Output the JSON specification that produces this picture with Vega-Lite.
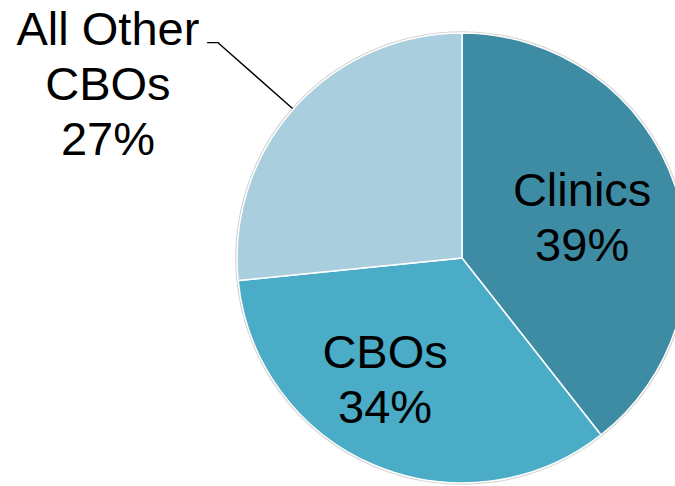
{
  "$schema": "https://vega.github.io/schema/vega-lite/v6.json",
  "autosize": "none",
  "width": 450,
  "height": 450,
  "padding": {"left": 237, "top": 33, "right": -12, "bottom": 3},
  "background": "white",
  "view": {"stroke": null},
  "config": {"text": {"font": "Liberation Sans", "color": "black"}},
  "data": {
    "values": [
      {"segment": "Clinics", "share": 39.4, "label": "Clinics\n39%"},
      {"segment": "CBOs", "share": 34.0, "label": "CBOs\n34%"},
      {"segment": "All Other CBOs", "share": 26.6, "label": "All Other\nCBOs\n27%"}
    ]
  },
  "encoding": {
    "theta": {"field": "share", "type": "quantitative", "stack": true},
    "order": {"field": "share", "type": "quantitative", "sort": "descending"}
  },
  "layer": [
    {
      "mark": {"type": "arc", "radius": 226.8, "fill": "#d2d2d2", "stroke": null}
    },
    {
      "mark": {"type": "arc", "radius": 225, "stroke": "white", "strokeWidth": 1.5},
      "encoding": {
        "color": {
          "field": "segment",
          "type": "nominal",
          "scale": {
            "domain": ["Clinics", "CBOs", "All Other CBOs"],
            "range": ["#3E8BA4", "#4AACC6", "#A9CEDD"]
          },
          "legend": null
        }
      }
    },
    {
      "mark": {
        "type": "arc",
        "radius": 325,
        "radius2": 226,
        "padAngle": 3,
        "thetaOffset": -0.0122,
        "fill": null,
        "stroke": "black",
        "strokeWidth": 1.4
      },
      "encoding": {
        "strokeOpacity": {
          "condition": {"test": "datum.segment === 'All Other CBOs'", "value": 1},
          "value": 0
        }
      }
    },
    {
      "mark": {
        "type": "text", "radius": 125, "fontSize": 47, "lineBreak": "\n", "lineHeight": 55,
        "align": "center", "baseline": "alphabetic", "dx": 2, "dy": -11
      },
      "encoding": {
        "text": {"condition": {"test": "datum.segment === 'Clinics'", "field": "label"}, "value": ""}
      }
    },
    {
      "mark": {
        "type": "text", "radius": 125, "fontSize": 47, "lineBreak": "\n", "lineHeight": 55,
        "align": "center", "baseline": "alphabetic", "dx": -28, "dy": -5
      },
      "encoding": {
        "text": {"condition": {"test": "datum.segment === 'CBOs'", "field": "label"}, "value": ""}
      }
    },
    {
      "mark": {
        "type": "text", "radius": 325, "fontSize": 47, "lineBreak": "\n", "lineHeight": 55,
        "align": "center", "baseline": "alphabetic", "dx": -113, "dy": 5
      },
      "encoding": {
        "text": {"condition": {"test": "datum.segment === 'All Other CBOs'", "field": "label"}, "value": ""}
      }
    },
    {
      "mark": {
        "type": "text", "radius": 325, "fontSize": 12, "fontWeight": "bold",
        "align": "right", "baseline": "alphabetic", "dx": -2, "dy": 6
      },
      "encoding": {
        "text": {"condition": {"test": "datum.segment === 'All Other CBOs'", "value": "—"}, "value": ""}
      }
    }
  ]
}
